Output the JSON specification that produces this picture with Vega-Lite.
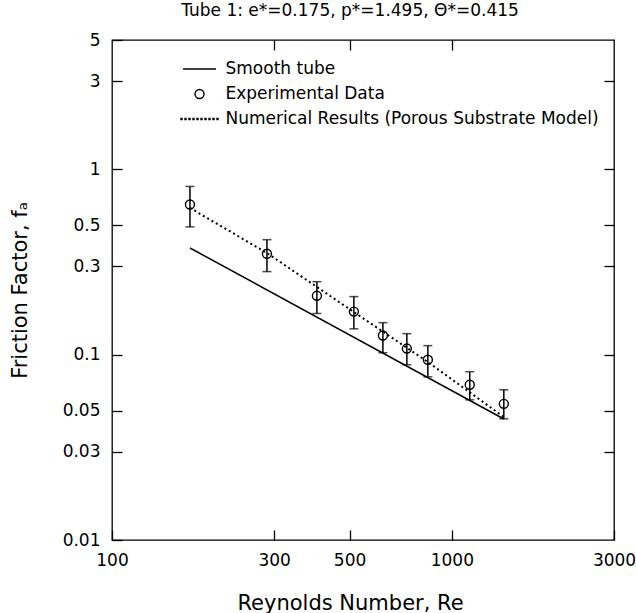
{
  "$schema": "https://vega.github.io/schema/vega-lite/v6.json",
  "autosize": {"type": "none"},
  "width": 502,
  "height": 500,
  "padding": {"left": 112, "top": 40, "right": 22, "bottom": 73},
  "background": "white",
  "title": {
    "text": "Tube 1: e*=0.175, p*=1.495, Θ*=0.415",
    "fontSize": 17,
    "font": "DejaVu Sans",
    "fontWeight": "normal",
    "color": "black",
    "anchor": "middle",
    "offset": 11,
    "dx": -13
  },
  "datasets": {
    "smooth": [
      {"Re": 169.6, "f": 0.377},
      {"Re": 1422, "f": 0.045}
    ],
    "numerical": [
      {"Re": 169.6, "f": 0.62},
      {"Re": 285.7, "f": 0.354},
      {"Re": 514.9, "f": 0.17},
      {"Re": 850, "f": 0.0914},
      {"Re": 1422, "f": 0.0461}
    ],
    "experimental": [
      {"Re": 169.6, "f": 0.647, "lo": 0.49, "hi": 0.81},
      {"Re": 285.7, "f": 0.351, "lo": 0.281, "hi": 0.418},
      {"Re": 400.8, "f": 0.208, "lo": 0.167, "hi": 0.248},
      {"Re": 514.9, "f": 0.171, "lo": 0.138, "hi": 0.206},
      {"Re": 626.8, "f": 0.127, "lo": 0.1026, "hi": 0.149},
      {"Re": 737.3, "f": 0.108, "lo": 0.0883, "hi": 0.13},
      {"Re": 850, "f": 0.094, "lo": 0.076, "hi": 0.112},
      {"Re": 1129, "f": 0.0689, "lo": 0.0571, "hi": 0.081},
      {"Re": 1422, "f": 0.0543, "lo": 0.0451, "hi": 0.0647}
    ]
  },
  "resolve": {"axis": {"x": "independent", "y": "independent"}},
  "layer": [
    {
      "data": {"name": "smooth"},
      "mark": {"type": "line", "color": "black", "strokeWidth": 1.5},
      "encoding": {
        "x": {"field": "Re", "type": "quantitative",
          "scale": {"type": "log", "domain": [100, 3000], "nice": false},
          "axis": {"orient": "top", "values": [300, 500, 1000], "labels": false, "title": null, "tickSize": -10, "domain": false, "grid": false, "tickColor": "black", "tickWidth": 1.3}},
        "y": {"field": "f", "type": "quantitative",
          "scale": {"type": "log", "domain": [0.01, 5], "nice": false},
          "axis": {"orient": "right", "values": [0.03, 0.05, 0.1, 0.3, 0.5, 1, 3], "labels": false, "title": null, "tickSize": -10, "domain": false, "grid": false, "tickColor": "black", "tickWidth": 1.3}}
      }
    },
    {
      "data": {"name": "numerical"},
      "mark": {"type": "line", "color": "black", "strokeWidth": 2, "strokeDash": [2, 3]},
      "encoding": {
        "x": {"field": "Re", "type": "quantitative", "scale": {"type": "log", "domain": [100, 3000], "nice": false}, "axis": null},
        "y": {"field": "f", "type": "quantitative", "scale": {"type": "log", "domain": [0.01, 5], "nice": false}, "axis": null}
      }
    },
    {
      "data": {"name": "experimental"},
      "mark": {"type": "rule", "color": "black", "strokeWidth": 1.5},
      "encoding": {
        "x": {"field": "Re", "type": "quantitative", "scale": {"type": "log", "domain": [100, 3000], "nice": false}, "axis": null},
        "y": {"field": "lo", "type": "quantitative", "scale": {"type": "log", "domain": [0.01, 5], "nice": false}, "axis": null},
        "y2": {"field": "hi"}
      }
    },
    {
      "data": {"name": "experimental"},
      "mark": {"type": "tick", "orient": "horizontal", "color": "black", "size": 9, "thickness": 1.5},
      "encoding": {
        "x": {"field": "Re", "type": "quantitative", "scale": {"type": "log", "domain": [100, 3000], "nice": false}, "axis": null},
        "y": {"field": "lo", "type": "quantitative", "scale": {"type": "log", "domain": [0.01, 5], "nice": false}, "axis": null}
      }
    },
    {
      "data": {"name": "experimental"},
      "mark": {"type": "tick", "orient": "horizontal", "color": "black", "size": 9, "thickness": 1.5},
      "encoding": {
        "x": {"field": "Re", "type": "quantitative", "scale": {"type": "log", "domain": [100, 3000], "nice": false}, "axis": null},
        "y": {"field": "hi", "type": "quantitative", "scale": {"type": "log", "domain": [0.01, 5], "nice": false}, "axis": null}
      }
    },
    {
      "data": {"name": "experimental"},
      "mark": {"type": "point", "filled": false, "stroke": "black", "strokeWidth": 1.4, "size": 400, "opacity": 1},
      "encoding": {
        "x": {"field": "Re", "type": "quantitative",
          "scale": {"type": "log", "domain": [100, 3000], "nice": false},
          "axis": {"orient": "bottom", "values": [100, 300, 500, 1000, 3000], "format": "d", "title": "Reynolds Number, Re",
            "tickSize": -10, "labelPadding": 22, "domain": false, "grid": false, "labelFlush": false, "labelOverlap": false, "labelBound": false,
            "tickColor": "black", "tickWidth": 1.3, "labelColor": "black", "labelFontSize": 17, "labelFont": "DejaVu Sans",
            "titleColor": "black", "titleFontSize": 21, "titleFont": "DejaVu Sans", "titleFontWeight": "normal",
            "titleX": 238, "titleY": 63, "titleBaseline": "middle"}},
        "y": {"field": "f", "type": "quantitative",
          "scale": {"type": "log", "domain": [0.01, 5], "nice": false},
          "axis": {"orient": "left", "values": [0.01, 0.03, 0.05, 0.1, 0.3, 0.5, 1, 3, 5], "format": "~g", "title": "Friction Factor, fₐ",
            "tickSize": -10, "labelPadding": 22, "domain": false, "grid": false, "labelFlush": false, "labelOverlap": false, "labelBound": false,
            "tickColor": "black", "tickWidth": 1.3, "labelColor": "black", "labelFontSize": 17, "labelFont": "DejaVu Sans",
            "titleColor": "black", "titleFontSize": 21, "titleFont": "DejaVu Sans", "titleFontWeight": "normal",
            "titleAngle": -90, "titleX": -92, "titleY": 250, "titleBaseline": "middle", "titleAlign": "center"}},
        "shape": {
          "datum": "Experimental Data",
          "scale": {
            "domain": ["Smooth tube", "Experimental Data", "Numerical Results (Porous Substrate Model)"],
            "range": [
              "M-1.65,0L1.65,0",
              "M0.45,0A0.45,0.45,0,1,1,-0.45,0A0.45,0.45,0,1,1,0.45,0Z",
              "M-1.85,-0.05h0.1v0.1h-0.1ZM-1.45,-0.05h0.1v0.1h-0.1ZM-1.05,-0.05h0.1v0.1h-0.1ZM-0.65,-0.05h0.1v0.1h-0.1ZM-0.25,-0.05h0.1v0.1h-0.1ZM0.15,-0.05h0.1v0.1h-0.1ZM0.55,-0.05h0.1v0.1h-0.1ZM0.95,-0.05h0.1v0.1h-0.1ZM1.35,-0.05h0.1v0.1h-0.1ZM1.75,-0.05h0.1v0.1h-0.1Z"
            ]
          },
          "legend": {
            "orient": "none", "legendX": 76.5, "legendY": 18, "title": null,
            "labelFontSize": 17, "labelFont": "DejaVu Sans", "labelColor": "black",
            "symbolSize": 400, "symbolStrokeWidth": 1.4, "symbolStrokeColor": "black",
            "symbolFillColor": "transparent", "symbolOpacity": 1, "rowPadding": 6, "labelOffset": 15, "padding": 0, "labelLimit": 450
          }
        }
      }
    }
  ],
  "config": {
    "view": {"stroke": "black", "strokeWidth": 1.3},
    "mark": {"color": "black"}
  }
}
